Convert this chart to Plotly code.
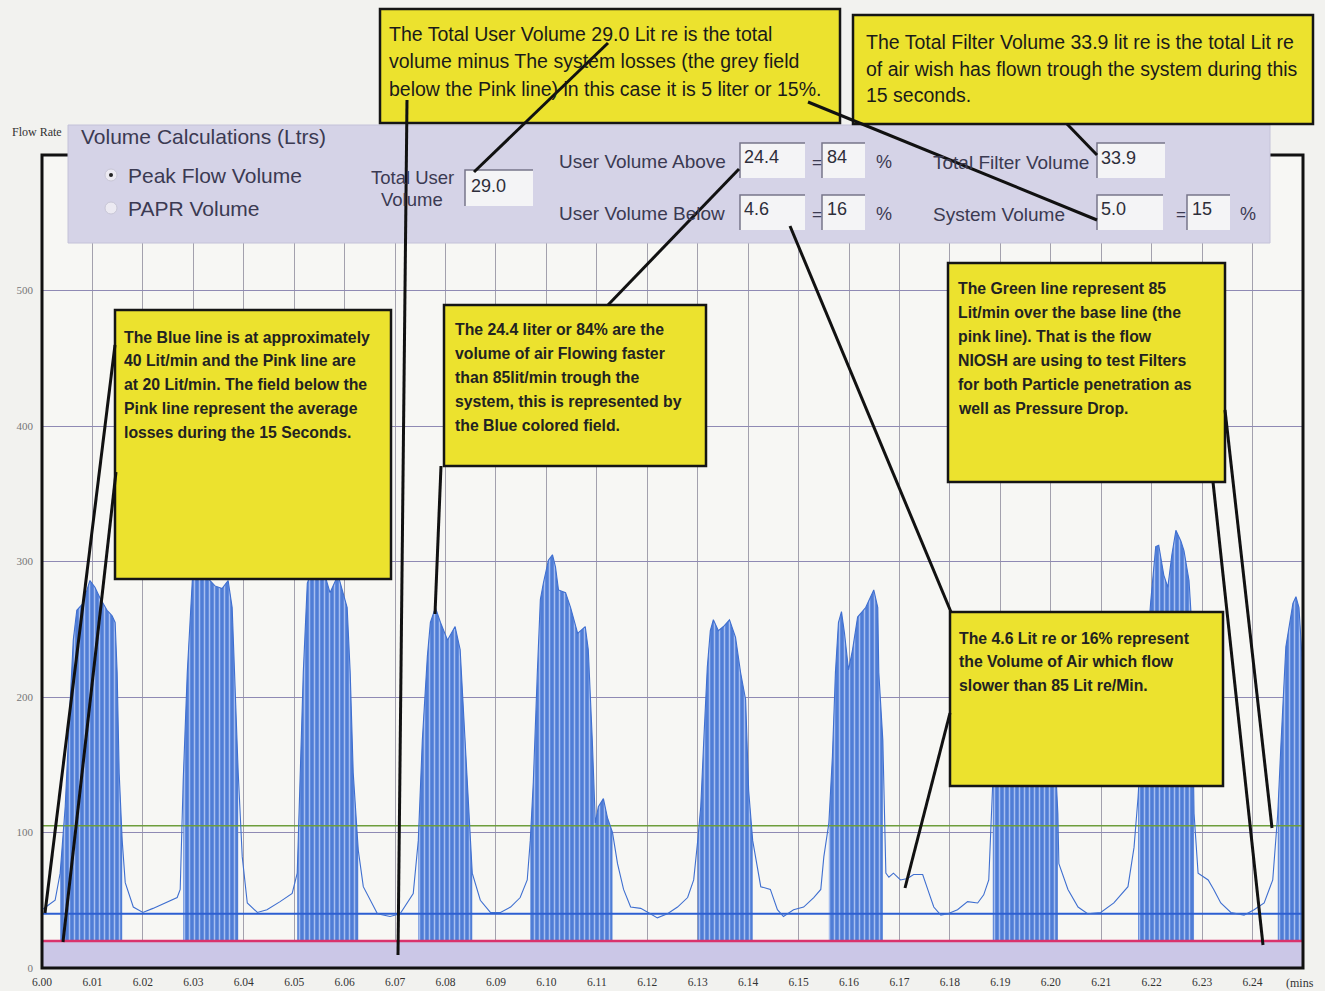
import plotly.graph_objects as go

# ---------------- data ----------------
TIME = [6.0000, 6.0026, 6.0036, 6.0046, 6.0056, 6.0062, 6.0069, 6.0081, 6.0095, 6.0105,
        6.0115, 6.0129, 6.0139, 6.0145, 6.0149, 6.0153, 6.0159, 6.0165, 6.0181, 6.0200,
        6.0220, 6.0248, 6.0268, 6.0274, 6.0280, 6.0288, 6.0292, 6.0298, 6.0304, 6.0323,
        6.0343, 6.0357, 6.0369, 6.0377, 6.0383, 6.0389, 6.0397, 6.0407, 6.0427, 6.0446,
        6.0472, 6.0496, 6.0506, 6.0512, 6.0518, 6.0526, 6.0542, 6.0556, 6.0571, 6.0587,
        6.0605, 6.0611, 6.0617, 6.0627, 6.0637, 6.0665, 6.0690, 6.0710, 6.0736, 6.0746,
        6.0754, 6.0764, 6.0770, 6.0780, 6.0790, 6.0804, 6.0819, 6.0829, 6.0839, 6.0849,
        6.0853, 6.0869, 6.0889, 6.0909, 6.0929, 6.0948, 6.0962, 6.0968, 6.0974, 6.0982,
        6.0988, 6.0994, 6.1004, 6.1012, 6.1018, 6.1024, 6.1038, 6.1048, 6.1062, 6.1077,
        6.1083, 6.1091, 6.1097, 6.1103, 6.1113, 6.1121, 6.1131, 6.1141, 6.1153, 6.1167,
        6.1187, 6.1206, 6.1220, 6.1240, 6.1260, 6.1280, 6.1292, 6.1300, 6.1306, 6.1312,
        6.1319, 6.1325, 6.1331, 6.1341, 6.1351, 6.1363, 6.1375, 6.1385, 6.1395, 6.1401,
        6.1409, 6.1425, 6.1444, 6.1458, 6.1470, 6.1490, 6.1510, 6.1530, 6.1544, 6.1550,
        6.1560, 6.1567, 6.1573, 6.1579, 6.1585, 6.1591, 6.1599, 6.1607, 6.1617, 6.1633,
        6.1643, 6.1649, 6.1657, 6.1659, 6.1667, 6.1673, 6.1679, 6.1688, 6.1702, 6.1716,
        6.1728, 6.1746, 6.1756, 6.1768, 6.1782, 6.1796, 6.1815, 6.1835, 6.1855, 6.1867,
        6.1877, 6.1885, 6.1893, 6.1905, 6.1931, 6.1960, 6.1990, 6.2004, 6.2014, 6.2016,
        6.2034, 6.2054, 6.2073, 6.2099, 6.2125, 6.2153, 6.2165, 6.2173, 6.2188, 6.2198,
        6.2208, 6.2214, 6.2224, 6.2232, 6.2240, 6.2248, 6.2258, 6.2264, 6.2274, 6.2278,
        6.2284, 6.2292, 6.2312, 6.2323, 6.2337, 6.2357, 6.2383, 6.2403, 6.2423, 6.2440,
        6.2450, 6.2456, 6.2466, 6.2480, 6.2486, 6.2492, 6.2498]

FLOW = [43, 50, 70, 119, 198, 242, 264, 269, 286, 281,
        273, 264, 260, 255, 218, 144, 94, 63, 45, 41,
        44, 49, 52, 58, 139, 218, 242, 286, 295, 290,
        282, 280, 286, 266, 205, 144, 82, 48, 41, 43,
        49, 55, 70, 144, 218, 284, 300, 296, 277, 290,
        266, 218, 144, 87, 60, 40, 38, 40, 55, 94,
        168, 230, 255, 266, 255, 242, 252, 235, 168, 94,
        70, 50, 41, 41, 45, 52, 65, 94, 137, 218,
        272, 284, 301, 305, 296, 279, 277, 266, 247, 252,
        235, 168, 107, 119, 125, 111, 100, 77, 58, 45,
        44, 40, 37, 40, 45, 52, 65, 94, 119, 168,
        222, 249, 257, 249, 252, 257, 244, 218, 198, 131,
        94, 60, 58, 43, 38, 43, 45, 52, 58, 82,
        107, 156, 218, 255, 263, 247, 220, 235, 259, 266,
        274, 279, 266, 218, 168, 70, 67, 70, 65, 66,
        69, 69, 58, 45, 39, 40, 43, 49, 48, 54,
        65, 139, 210, 240, 245, 238, 230, 190, 114, 77,
        58, 45, 40, 41, 48, 60, 89, 126, 220, 270,
        311, 312, 290, 281, 305, 323, 315, 308, 286, 262,
        114, 70, 65, 58, 48, 41, 39, 43, 48, 65,
        114, 163, 237, 269, 274, 266, 230]

PEAK_START = [6.0036, 6.0280, 6.0506, 6.0746, 6.0968, 6.1300, 6.1560, 6.1885, 6.2173, 6.2450]
PEAK_END = [6.0159, 6.0389, 6.0627, 6.0853, 6.1131, 6.1409, 6.1667, 6.2014, 6.2284, 6.2498]

PINK_LEVEL = 20      # system losses base line (Lit/min)
BLUE_LEVEL = 40      # blue line (Lit/min)
GREEN_LEVEL = 105    # base + 85 Lit/min

X_TICKS = [6.00, 6.01, 6.02, 6.03, 6.04, 6.05, 6.06, 6.07, 6.08, 6.09, 6.10, 6.11, 6.12,
           6.13, 6.14, 6.15, 6.16, 6.17, 6.18, 6.19, 6.20, 6.21, 6.22, 6.23, 6.24]
X_TICK_LABELS = ["6.00", "6.01", "6.02", "6.03", "6.04", "6.05", "6.06", "6.07", "6.08",
                 "6.09", "6.10", "6.11", "6.12", "6.13", "6.14", "6.15", "6.16", "6.17",
                 "6.18", "6.19", "6.20", "6.21", "6.22", "6.23", "6.24"]
Y_TICKS = [0, 100, 200, 300, 400, 500]
X_RANGE = [6.00, 6.25]
Y_RANGE = [0, 600]

TOTAL_USER = "29.0"
ABOVE_VOL, ABOVE_PCT = "24.4", "84"
BELOW_VOL, BELOW_PCT = "4.6", "16"
FILTER_VOL = "33.9"
SYSTEM_VOL, SYSTEM_PCT = "5.0", "15"

NOTE_TOP1 = ["The Total User Volume 29.0 Lit re is the total",
             "volume minus The system losses (the grey field",
             "below the Pink line) in this case it is 5 liter or 15%."]
NOTE_TOP2 = ["The Total Filter Volume 33.9 lit re is the total Lit re",
             "of air wish has flown trough the system during this",
             "15 seconds."]
NOTE_BLUE = ["The Blue line is at approximately",
             "40 Lit/min and the Pink line are",
             "at 20 Lit/min. The field below the",
             "Pink line represent the average",
             "losses during the 15 Seconds."]
NOTE_ABOVE = ["The 24.4 liter or 84% are the",
              "volume of air Flowing faster",
              "than 85lit/min trough the",
              "system, this is represented by",
              "the Blue colored field."]
NOTE_GREEN = ["The Green line represent 85",
              "Lit/min over the base line (the",
              "pink line). That is the flow",
              "NIOSH are using to test Filters",
              "for both Particle penetration as",
              "well as Pressure Drop."]
NOTE_BELOW = ["The 4.6 Lit re or 16% represent",
              "the Volume of Air which flow",
              "slower than 85 Lit re/Min."]

# ---------------- geometry helpers (layout, pixels -> paper) ----------------
W, H = 1325, 991
PL, PR, PT, PB = 42, 1303, 155, 968


def px(x):
    return (x - PL) / (PR - PL)


def py(y):
    return (PB - y) / (PB - PT)


fig = go.Figure()

# lavender loss field below pink line
fig.add_trace(go.Scatter(x=X_RANGE, y=[PINK_LEVEL, PINK_LEVEL], mode="lines",
                         line=dict(color="#c9c5e6", width=0), fill="tozeroy",
                         fillcolor="#cbc7e7", hoverinfo="skip"))

# hatched peak fields
for s, e in zip(PEAK_START, PEAK_END):
    xs = [t for t in TIME if s <= t <= e]
    ys = [f for t, f in zip(TIME, FLOW) if s <= t <= e]
    fig.add_trace(go.Scatter(
        x=[s] + xs + [e, s], y=[PINK_LEVEL] + ys + [PINK_LEVEL, PINK_LEVEL],
        mode="lines", line=dict(width=0, color="#4a78d4"), fill="toself",
        fillcolor="#5b86da",
        fillpattern=dict(shape="|", fgcolor="#a6bef0", bgcolor="#4f7dd6",
                         size=5, solidity=0.3, fillmode="replace"),
        hoverinfo="skip"))

# level lines
fig.add_trace(go.Scatter(x=X_RANGE, y=[GREEN_LEVEL, GREEN_LEVEL], mode="lines",
                         line=dict(color="#6e9e3c", width=1.6)))
fig.add_trace(go.Scatter(x=X_RANGE, y=[BLUE_LEVEL, BLUE_LEVEL], mode="lines",
                         line=dict(color="#2d5fd2", width=2)))
fig.add_trace(go.Scatter(x=X_RANGE, y=[PINK_LEVEL, PINK_LEVEL], mode="lines",
                         line=dict(color="#d9336c", width=2.5)))

# flow curve
fig.add_trace(go.Scatter(x=TIME, y=FLOW, mode="lines",
                         line=dict(color="#3f6fd0", width=1.1)))

shapes = []
annotations = []

# frame
shapes.append(dict(type="rect", xref="paper", yref="paper", x0=0, x1=1, y0=0, y1=1,
                   line=dict(color="#111111", width=3), layer="above"))

# panel
shapes.append(dict(type="rect", xref="paper", yref="paper", x0=px(68), x1=px(1270),
                   y0=py(243), y1=py(125), fillcolor="#d5d3e7",
                   line=dict(color="#c4c2d8", width=1), layer="above"))

fields = [(465, 533, 170, 206), (740, 805, 143, 178), (822, 865, 143, 178),
          (740, 805, 195, 230), (822, 865, 195, 230), (1097, 1165, 143, 178),
          (1097, 1163, 195, 230), (1187, 1230, 195, 230)]
for x0, x1, y0, y1 in fields:
    shapes.append(dict(type="rect", xref="paper", yref="paper", x0=px(x0), x1=px(x1),
                       y0=py(y1), y1=py(y0), fillcolor="#f4f4f6",
                       line=dict(width=0), layer="above"))
    shapes.append(dict(type="path", xref="paper", yref="paper",
                       path=f"M {px(x0)},{py(y1)} L {px(x0)},{py(y0)} L {px(x1)},{py(y0)}",
                       line=dict(color="#77768a", width=1.5), layer="above"))

# radio buttons
for cy, sel in [(175, True), (208, False)]:
    shapes.append(dict(type="circle", xref="paper", yref="paper", x0=px(105), x1=px(117),
                       y0=py(cy + 6), y1=py(cy - 6), fillcolor="#eceaf2",
                       line=dict(color="#c8c6d6", width=1), layer="above"))
    if sel:
        shapes.append(dict(type="circle", xref="paper", yref="paper", x0=px(109), x1=px(113),
                           y0=py(cy + 2), y1=py(cy - 2), fillcolor="#222222",
                           line=dict(width=0), layer="above"))

# yellow note boxes
boxes = [(380, 840, 9, 123), (853, 1313, 15, 124), (115, 391, 310, 579),
         (444, 706, 305, 466), (948, 1225, 263, 482), (950, 1223, 612, 786)]
for x0, x1, y0, y1 in boxes:
    shapes.append(dict(type="rect", xref="paper", yref="paper", x0=px(x0), x1=px(x1),
                       y0=py(y1), y1=py(y0), fillcolor="#ece22e",
                       line=dict(color="#151515", width=2.5), layer="above"))

# connector lines
connectors = [((608, 43), (474, 172)), ((407, 100), (398, 955)), ((808, 102), (1097, 220)),
              ((1067, 124), (1097, 155)), ((115, 345), (45, 913)), ((116, 472), (63, 942)),
              ((441, 466), (435, 614)), ((608, 305), (739, 169)), ((790, 226), (951, 612)),
              ((950, 713), (905, 888)), ((1213, 482), (1263, 945)), ((1225, 410), (1272, 828))]
for (xa, ya), (xb, yb) in connectors:
    shapes.append(dict(type="line", xref="paper", yref="paper", x0=px(xa), y0=py(ya),
                       x1=px(xb), y1=py(yb), line=dict(color="#111111", width=3),
                       layer="above"))

SANS = "Liberation Sans, Arial, sans-serif"
SERIF = "Liberation Serif, serif"


def text(x, y, s, size, color="#1a1a1a", family=SANS, anchor="left", bold=False):
    annotations.append(dict(xref="paper", yref="paper", x=px(x), y=py(y),
                            text=f"<b>{s}</b>" if bold else s,
                            showarrow=False, xanchor=anchor, yanchor="middle",
                            font=dict(size=size, color=color, family=family)))


for i, s in enumerate(NOTE_TOP1):
    text(387, 34 + i * 27.5, s, 19.5)
for i, s in enumerate(NOTE_TOP2):
    text(864, 42 + i * 26.5, s, 19.5)
for i, s in enumerate(NOTE_BLUE):
    text(122, 337 + i * 23.8, s, 15.8, "#222222", bold=True)
for i, s in enumerate(NOTE_ABOVE):
    text(453, 329 + i * 24, s, 15.8, "#222222", bold=True)
for i, s in enumerate(NOTE_GREEN):
    text(956, 288 + i * 24, s, 15.8, "#222222", bold=True)
for i, s in enumerate(NOTE_BELOW):
    text(957, 638 + i * 23.5, s, 15.8, "#222222", bold=True)

PANEL_C = "#3b3a52"
text(10, 132, "Flow Rate", 12, "#333333", SERIF)
text(79, 136, "Volume Calculations (Ltrs)", 21, PANEL_C)
text(126, 175, "Peak Flow Volume", 21, PANEL_C)
text(126, 208, "PAPR Volume", 21, PANEL_C)
text(412, 178, "Total User", 18.5, PANEL_C, anchor="center")
text(412, 199, "Volume", 18.5, PANEL_C, anchor="center")
text(557, 161, "User Volume Above", 19, PANEL_C)
text(557, 213, "User Volume Below", 19, PANEL_C)
text(931, 162, "Total Filter Volume", 19, PANEL_C)
text(931, 214, "System Volume", 19, PANEL_C)
for yy in (162, 214):
    text(810, yy, "=", 17, PANEL_C)
    text(874, yy, "%", 18, PANEL_C)
text(1174, 214, "=", 17, PANEL_C)
text(1238, 214, "%", 18, PANEL_C)

FIELD_C = "#2e2e3a"
text(469, 186, TOTAL_USER, 18, FIELD_C)
text(742, 157, ABOVE_VOL, 18, FIELD_C)
text(825, 157, ABOVE_PCT, 18, FIELD_C)
text(742, 209, BELOW_VOL, 18, FIELD_C)
text(825, 209, BELOW_PCT, 18, FIELD_C)
text(1099, 158, FILTER_VOL, 18, FIELD_C)
text(1099, 209, SYSTEM_VOL, 18, FIELD_C)
text(1190, 209, SYSTEM_PCT, 18, FIELD_C)
text(1284, 983, "(mins", 12, "#333333", SERIF)

fig.update_layout(
    width=W, height=H,
    margin=dict(l=PL, r=W - PR, t=PT, b=H - PB, autoexpand=False),
    paper_bgcolor="#f2f2ef", plot_bgcolor="#f7f7f4",
    showlegend=False,
    shapes=shapes, annotations=annotations,
    xaxis=dict(range=X_RANGE, tickvals=X_TICKS, ticktext=X_TICK_LABELS, automargin=False,
               showgrid=True, gridcolor="#a3a1ad", gridwidth=1, zeroline=False,
               showline=False, ticks="", ticklabelstandoff=5,
               tickfont=dict(size=11.5, color="#333333", family=SERIF)),
    yaxis=dict(range=Y_RANGE, tickvals=Y_TICKS, showgrid=True, gridcolor="#8f8ab4",
               automargin=False, gridwidth=1, zeroline=False, showline=False, ticks="",
               ticklabelstandoff=8,
               tickfont=dict(size=11, color="#777777", family=SERIF)),
)

fig.write_html("out.html", config={"displayModeBar": False},
               post_script="document.body.style.margin='0';")
